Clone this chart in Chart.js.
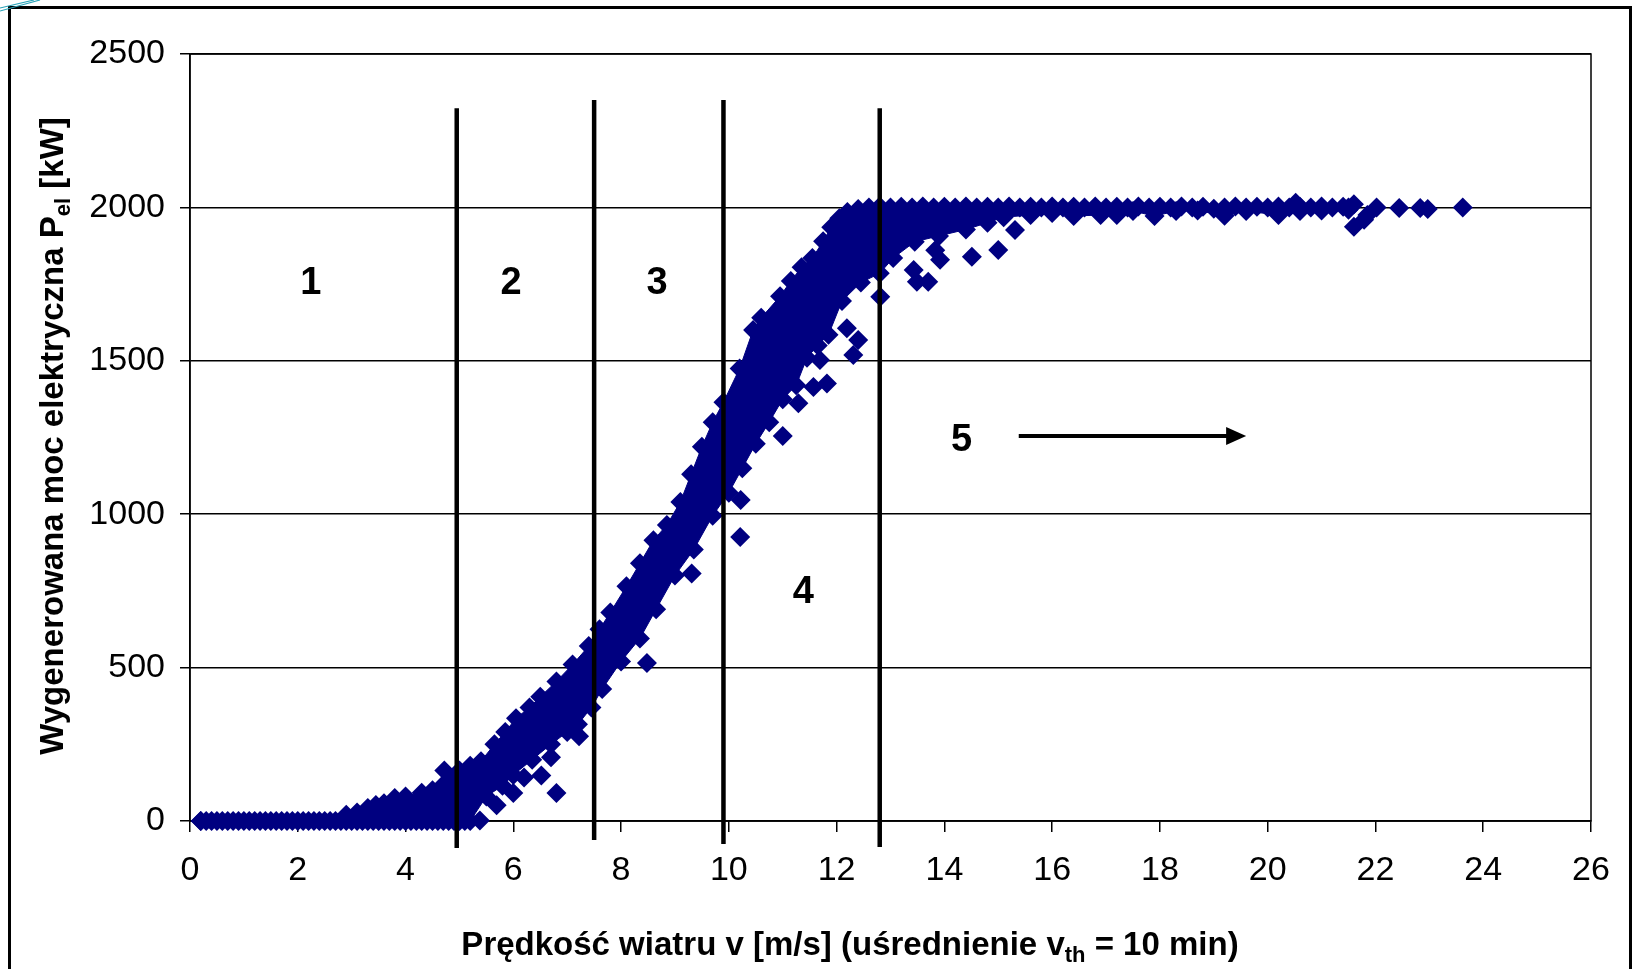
<!DOCTYPE html>
<html>
<head>
<meta charset="utf-8">
<title>Krzywa mocy</title>
<script src="https://cdn.jsdelivr.net/npm/chart.js@4.4.1/dist/chart.umd.min.js"></script>
<style>
  html, body { margin: 0; padding: 0; background: #fff; overflow: hidden; }
  #wrap { position: relative; width: 1635px; height: 969px; }
  #frame { position: absolute; left: 8px; top: 6px; width: 1624px; height: 1000px; border: 3px solid #000; box-sizing: border-box; }
  #deco { position: absolute; left: 0; top: 0; }
  canvas { position: absolute; left: 0; top: 0; }
</style>
</head>
<body>
<div id="wrap">
  <div id="frame"></div>
  <svg id="deco" width="60" height="12"><path d="M0 8 L34 0 M0 11 L40 0" stroke="#29a3b8" stroke-width="1.2" fill="none"/></svg>
  <canvas id="myChart" width="1635" height="969"></canvas>
</div>
<script>
"use strict";

/* krzywa mocy turbiny */

// górna krawędź chmury punktów [v, P]
const upperEdge = [
  [0.2,0],[0.3,0],[0.4,0],[0.5,0],[0.6,0],[0.7,0],[0.8,0],[0.9,0],[1.0,0],[1.1,0],
  [1.2,0],[1.3,0],[1.4,0],[1.5,0],[1.6,0],[1.7,0],[1.8,0],[1.9,0],[2.0,0],[2.1,0],
  [2.2,0],[2.3,0],[2.4,0],[2.5,0],[2.6,0],[2.7,0],[2.8,0],
  [2.9,20],[3.1,28],[3.3,42],[3.45,52],[3.6,58],[3.8,75],[4.0,80],[4.3,92],[4.5,100],
  [4.7,118],[4.85,135],[5.0,165],[5.2,180],[5.4,195],[5.65,250],[5.85,290],[6.05,335],
  [6.3,370],[6.5,405],[6.8,455],[7.1,510],[7.4,570],[7.6,625],[7.8,680],[8.1,765],
  [8.35,840],[8.6,915],[8.85,965],[9.1,1040],[9.3,1130],[9.5,1220],[9.7,1300],[9.9,1365],
  [10.2,1475],[10.45,1600],[10.6,1640],[10.95,1710],[11.15,1760],[11.35,1805],[11.55,1835],
  [11.75,1890],[11.9,1935],[12.05,1965],[12.2,1985],[12.4,1995],
  [12.6,2000],[12.8,2003],[13.0,2000],[13.2,2002],[13.4,2000],[13.6,2003],[13.8,2000],
  [14.0,2002],[14.2,2000],[14.4,2003],[14.6,2000],[14.8,2002],[15.0,2000],[15.2,2003],
  [15.4,2000],[15.6,2002],[15.8,2000],[16.0,2003],[16.2,2000],[16.4,2002],[16.6,2000],
  [16.8,2003],[17.0,2000],[17.2,2002],[17.4,2000],[17.6,2003],[17.8,2000],[18.0,2002],
  [18.2,2000],[18.4,2003],[18.6,2000],[18.8,2002],[19.0,1996],[19.2,2000],[19.4,2003],
  [19.6,2000],[19.8,2002],[20.0,2000],[20.2,2003],[20.4,2000],[20.6,2002],[20.8,2000],
  [21.0,2003],[21.2,2000],[21.4,2002],[21.5,2000]
];

// dolna krawędź chmury punktów [v, P]
const lowerEdge = [
  [0.2,0],[2.9,0],[3.0,0],[3.1,0],[3.2,0],[3.3,0],[3.4,0],[3.5,0],[3.6,0],[3.7,0],
  [3.8,0],[3.9,0],[4.0,0],[4.1,0],[4.2,0],[4.3,0],[4.4,0],[4.5,0],[4.6,0],[4.7,0],
  [4.8,0],[4.9,0],[5.0,0],[5.1,0],[5.2,0],
  [5.5,80],[5.8,115],[6.0,150],[6.35,200],[6.7,250],[7.0,290],[7.2,315],[7.45,370],
  [7.65,430],[8.0,520],[8.35,595],[8.65,690],[9.0,800],[9.35,885],[9.7,995],[10.0,1070],
  [10.25,1150],[10.5,1230],[10.75,1300],[11.0,1375],[11.25,1420],[11.45,1510],[11.65,1550],
  [11.85,1585],[12.1,1695],[12.45,1755],[12.8,1785],[13.05,1835],[13.45,1888],[13.9,1907],
  [14.4,1928],[14.8,1950],[15.1,1968],[15.6,1975],[16.0,1982],[16.4,1972],[16.9,1975],
  [17.2,1975],[17.5,1988],[17.9,1972],[18.3,1988],[18.7,1990],[19.2,1973],[19.6,1988],
  [20.2,1975],[20.6,1988],[21.0,1990],[21.5,1992]
];

// pojedyncze punkty poza główną chmurą [v, P]
const outliers = [
  [4.72,165],[5.38,2],[5.69,51],[6.0,91],[6.2,142],[6.52,148],[6.7,208],[6.8,91],
  [7.22,276],[8.48,515],[9.31,807],[10.21,926],[10.22,1046],[11.0,1255],[11.29,1362],
  [11.57,1415],[11.69,1503],[11.82,1426],[12.19,1606],[12.31,1519],[12.4,1568],[12.81,1709],
  [13.43,1796],[13.49,1758],[13.7,1758],[13.83,1860],[13.92,1829],[14.51,1839],[15.0,1861],
  [15.31,1926],[20.52,2015],[21.6,1937],[21.6,2010],[21.79,1960],[21.85,1975],[22.02,2000],
  [22.44,1998],[22.83,1998],[22.97,1995],[23.62,2000]
];

// granice stref
const boundaryX = [4.95, 7.5, 9.9, 12.8];
const boundaryTop = [2323, 2350, 2350, 2323];
const boundaryBottom = [-88, -62, -75, -85];

// numery stref
const zoneLabels = ["1", "2", "3", "4", "5"];
const zoneX = [2.24, 5.96, 8.67, 11.38, 14.32];
const zoneY = [1752, 1752, 1752, 744, 1241];
const arrowFrom = [15.38, 1255];
const arrowTo = [19.6, 1255];

const xTicks = [0, 2, 4, 6, 8, 10, 12, 14, 16, 18, 20, 22, 24, 26];
const yTicks = [0, 500, 1000, 1500, 2000, 2500];

const xTitle = ["Prędkość wiatru v [m/s] (uśrednienie v", "th", " = 10 min)"];
const yTitle = ["Wygenerowana moc elektryczna P", "el", " [kW]"];

const navy = "#000080";
const FONT = '"Liberation Sans", Arial, sans-serif';
const MARKER = 10;

const toXY = (arr) => arr.map(p => ({ x: p[0], y: p[1] }));

const boundaryDatasets = boundaryX.map((v, i) => ({
  type: "line",
  data: [{ x: v, y: boundaryTop[i] }, { x: v, y: boundaryBottom[i] }],
  borderColor: "#000",
  borderWidth: 4.5,
  pointRadius: 0,
  clip: false,
  order: 0
}));

function drawSubText(ctx, parts, size) {
  // tekst z indeksem dolnym, wyśrodkowany w x=0
  const big = "bold " + size + "px " + FONT;
  const small = "bold " + Math.round(size * 0.66) + "px " + FONT;
  ctx.font = big;
  const w0 = ctx.measureText(parts[0]).width;
  ctx.font = small;
  const w1 = ctx.measureText(parts[1]).width;
  ctx.font = big;
  const w2 = ctx.measureText(parts[2]).width;
  let x = -(w0 + w1 + w2) / 2;
  ctx.font = big;
  ctx.fillText(parts[0], x, 0);
  x += w0;
  ctx.font = small;
  ctx.fillText(parts[1], x, size * 0.22);
  x += w1;
  ctx.font = big;
  ctx.fillText(parts[2], x, 0);
}

const extras = {
  id: "extras",
  beforeDatasetsDraw(chart) {
    const { ctx, chartArea: a } = chart;
    ctx.save();
    ctx.strokeStyle = "#000";
    ctx.lineWidth = 1.5;
    ctx.strokeRect(a.left, a.top, a.right - a.left, a.bottom - a.top);
    ctx.restore();
  },
  afterDraw(chart) {
    const { ctx, scales: { x, y } } = chart;
    ctx.save();
    ctx.fillStyle = "#000";
    ctx.textAlign = "center";
    ctx.textBaseline = "middle";
    ctx.font = "bold 38px " + FONT;
    zoneLabels.forEach((t, i) => {
      ctx.fillText(t, x.getPixelForValue(zoneX[i]), y.getPixelForValue(zoneY[i]));
    });

    // strzałka
    const x1 = x.getPixelForValue(arrowFrom[0]);
    const x2 = x.getPixelForValue(arrowTo[0]);
    const ya = y.getPixelForValue(arrowFrom[1]);
    ctx.strokeStyle = "#000";
    ctx.lineWidth = 4;
    ctx.beginPath();
    ctx.moveTo(x1, ya);
    ctx.lineTo(x2 - 14, ya);
    ctx.stroke();
    ctx.beginPath();
    ctx.moveTo(x2, ya);
    ctx.lineTo(x2 - 20, ya - 9);
    ctx.lineTo(x2 - 20, ya + 9);
    ctx.closePath();
    ctx.fill();

    // tytuły osi z indeksami dolnymi
    ctx.textAlign = "left";
    ctx.textBaseline = "alphabetic";
    ctx.save();
    ctx.translate(850, 955);
    drawSubText(ctx, xTitle, 33);
    ctx.restore();
    ctx.save();
    ctx.translate(63, 436);
    ctx.rotate(-Math.PI / 2);
    drawSubText(ctx, yTitle, 33);
    ctx.restore();
    ctx.restore();
  }
};

Chart.defaults.font.family = FONT;
Chart.defaults.color = "#000";

const chartDiv = document.getElementById("myChart");

const markerStyle = {
  pointStyle: "rectRot",
  pointRadius: MARKER,
  pointBackgroundColor: navy,
  pointBorderColor: navy,
  pointBorderWidth: 0,
  clip: false
};

new Chart(chartDiv, {
  type: "scatter",
  data: {
    datasets: [
      ...boundaryDatasets,
      {
        type: "line",
        data: toXY(outliers),
        showLine: false,
        ...markerStyle,
        order: 1
      },
      {
        type: "line",
        data: toXY(upperEdge),
        borderColor: navy,
        borderWidth: 1,
        backgroundColor: navy,
        fill: "+1",
        tension: 0,
        ...markerStyle,
        order: 2
      },
      {
        type: "line",
        data: toXY(lowerEdge),
        borderColor: navy,
        borderWidth: 1,
        backgroundColor: navy,
        fill: false,
        tension: 0,
        ...markerStyle,
        order: 3
      }
    ]
  },
  plugins: [extras],
  options: {
    responsive: false,
    animation: false,
    devicePixelRatio: 1,
    layout: { padding: { top: 54, right: 44, left: 0, bottom: 0 } },
    plugins: {
      legend: { display: false },
      tooltip: { enabled: false }
    },
    scales: {
      x: {
        type: "linear",
        min: 0,
        max: 26,
        afterFit: (axis) => { axis.height = 148; },
        afterBuildTicks: (axis) => { axis.ticks = xTicks.map(v => ({ value: v })); },
        ticks: { font: { size: 34 }, padding: 18, color: "#000", maxRotation: 0, callback: (v) => String(v) },
        grid: { drawOnChartArea: false, tickLength: 11, color: "#000", lineWidth: 1.5 },
        border: { color: "#000", width: 1.5 }
      },
      y: {
        type: "linear",
        min: 0,
        max: 2500,
        afterFit: (axis) => { axis.width = 190; },
        afterBuildTicks: (axis) => { axis.ticks = yTicks.map(v => ({ value: v })); },
        ticks: { font: { size: 34 }, padding: 15, color: "#000", callback: (v) => String(v) },
        grid: { tickLength: 10, color: "#000", lineWidth: 1.5 },
        border: { color: "#000", width: 1.5 }
      }
    }
  }
});
</script>
</body>
</html>
